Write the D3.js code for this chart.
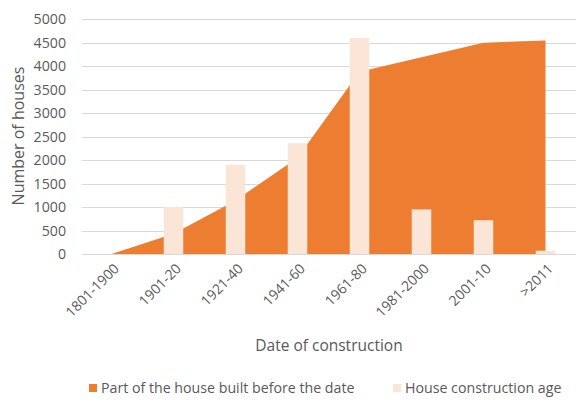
<!DOCTYPE html>
<html>
<head>
<meta charset="utf-8">
<script src="https://cdn.jsdelivr.net/npm/d3@7"></script>
<style>
  html, body { margin: 0; padding: 0; background: #fff; }
  svg text { font-family: "Open Sans", "Liberation Sans", sans-serif; fill: #595959; }
</style>
</head>
<body>
<svg id="chart" width="576" height="403"></svg>
<script>
// Periods of construction
const categories = ["1801-1900", "1901-20", "1921-40", "1941-60", "1961-80", "1981-2000", "2001-10", ">2011"];
// Cumulative number of houses built before each date (area)
const cumulativeBuilt = [0, 430, 1140, 2050, 3880, 4190, 4500, 4550];
// Number of houses per construction period (columns)
const constructionAge = [0, 1000, 1900, 2360, 4600, 950, 720, 70];
// Y axis ticks
const yTicks = [0, 500, 1000, 1500, 2000, 2500, 3000, 3500, 4000, 4500, 5000];

const seriesNames = ["Part of the house built before the date", "House construction age"];
const areaColor = "#ED7D31";
const barColor = "#FBE5D6";

const svg = d3.select("#chart");

const x = d3.scaleBand().domain(categories).range([80.5, 576.5]).padding(0);
const y = d3.scaleLinear().domain([0, 5000]).range([254, 19.3]);
const barW = x.bandwidth() * 0.315;
const cx = c => x(c) + x.bandwidth() / 2;

// Horizontal gridlines
svg.append("g")
  .selectAll("line")
  .data(yTicks)
  .join("line")
  .attr("x1", 82).attr("x2", 576)
  .attr("y1", d => Math.round(y(d)) + 0.5)
  .attr("y2", d => Math.round(y(d)) + 0.5)
  .attr("stroke", "#D9D9D9")
  .attr("stroke-width", 1);

// Y tick labels
svg.append("g")
  .selectAll("text")
  .data(yTicks)
  .join("text")
  .attr("x", 66)
  .attr("y", d => y(d))
  .attr("dy", "0.35em")
  .attr("text-anchor", "end")
  .attr("font-size", 14.2)
  .text(d => d);

// Cumulative area
const area = d3.area()
  .x((d, i) => cx(categories[i]))
  .y0(y(0))
  .y1(d => y(d));

svg.append("path")
  .datum(cumulativeBuilt)
  .attr("d", area)
  .attr("fill", areaColor);

// Columns
svg.append("g")
  .selectAll("rect")
  .data(constructionAge)
  .join("rect")
  .attr("x", (d, i) => cx(categories[i]) - barW / 2)
  .attr("width", barW)
  .attr("y", d => y(d))
  .attr("height", d => y(0) - y(d))
  .attr("fill", barColor);

// X tick labels, rotated
svg.append("g")
  .selectAll("text")
  .data(categories)
  .join("text")
  .attr("transform", d => `translate(${cx(d) + 5},${266}) rotate(-45)`)
  .attr("text-anchor", "end")
  .attr("dy", "0.35em")
  .attr("font-size", 14)
  .text(d => d);

// Axis titles
svg.append("text")
  .attr("transform", "translate(18,136) rotate(-90)")
  .attr("text-anchor", "middle")
  .attr("dy", "0.35em")
  .attr("font-size", 16)
  .text("Number of houses");

svg.append("text")
  .attr("x", 329)
  .attr("y", 346)
  .attr("text-anchor", "middle")
  .attr("dy", "0.35em")
  .attr("font-size", 15.5)
  .text("Date of construction");

// Legend
const legend = svg.append("g");
const legendItems = [
  { name: seriesNames[0], color: areaColor, x: 89 },
  { name: seriesNames[1], color: barColor, x: 393 }
];
legendItems.forEach(it => {
  legend.append("rect")
    .attr("x", it.x).attr("y", 384)
    .attr("width", 8).attr("height", 8)
    .attr("fill", it.color);
  legend.append("text")
    .attr("x", it.x + 12).attr("y", 388)
    .attr("dy", "0.35em")
    .attr("font-size", 14.2)
    .text(it.name);
});
</script>
</body>
</html>
